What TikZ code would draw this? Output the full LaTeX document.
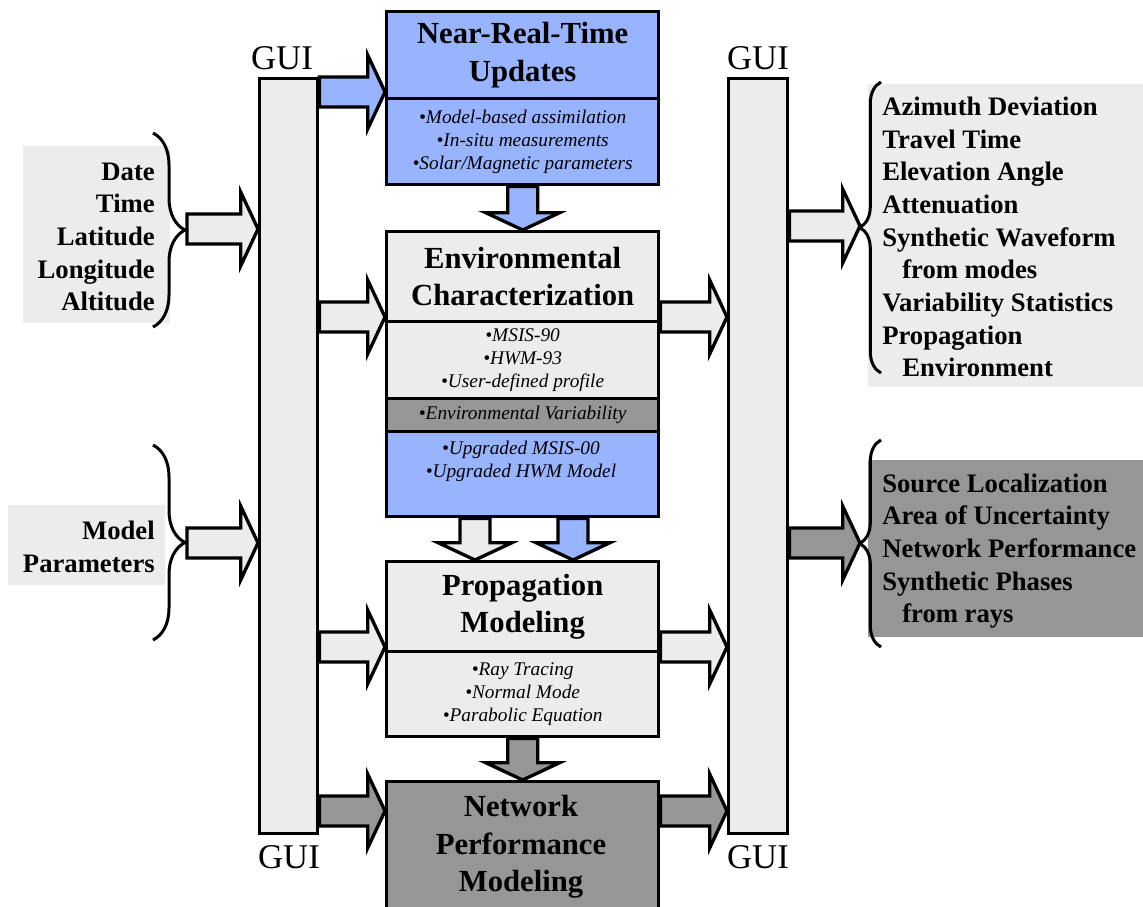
\documentclass[tikz,border=0pt]{standalone}
\usepackage{fontspec}
\setmainfont{Liberation Serif}
\usetikzlibrary{calc,decorations.pathreplacing}
\definecolor{lgray}{RGB}{236,236,236}
\definecolor{dgray}{RGB}{150,150,150}
\definecolor{lblue}{RGB}{153,180,255}
\begin{document}
\begin{tikzpicture}[x=0.75pt,y=-0.75pt,
  box/.style={draw, line width=2.5pt, inner sep=0pt, anchor=north west, align=center, minimum width=204pt},
  pane/.style={inner sep=0pt, anchor=north west},
  ttl/.style={font=\fontsize{23}{28}\selectfont\bfseries},
  lst/.style={font=\fontsize{14.5}{17.3}\selectfont\itshape},
  side/.style={font=\fontsize{20}{24.5}\selectfont\bfseries, inner sep=0pt},
  gui/.style={font=\fontsize{26}{30}\selectfont, inner sep=0pt},
  brc/.style={draw, line width=2.25pt, decorate},
  barr/.style={draw, line width=2.5pt, line join=miter, miter limit=20,
    to path={
      (\tikztostart) coordinate (bas)
      ($(\tikztotarget)!13pt!(\tikztostart)$) coordinate (bah)
      ($(bas)!11.25pt!90:(bah)$) -- ($(bah)!11.25pt!-90:(bas)$) -- ($(bah)!27.75pt!-90:(bas)$)
      -- (\tikztotarget) -- ($(bah)!27.75pt!90:(bas)$) -- ($(bah)!11.25pt!90:(bas)$)
      -- ($(bas)!11.25pt!-90:(bah)$) -- cycle}}
]
\useasboundingbox (0,0) rectangle (1143,907);

% row / column helper coordinates
\coordinate (r1) at (0,92);
\coordinate (r2) at (0,317);
\coordinate (r3) at (0,647);
\coordinate (r4) at (0,811);
\coordinate (c1) at (475,0);
\coordinate (c2) at (573,0);

% side panels
\node[pane, fill=lgray, minimum width=110.25pt, minimum height=132.75pt] (in1box) at (23,146) {};
\node[pane, fill=lgray, minimum width=117.75pt, minimum height=60pt] (in2box) at (8,505) {};
\node[pane, fill=lgray, minimum width=206.25pt, minimum height=227.25pt] (out1box) at (868,84) {};
\node[pane, fill=dgray, minimum width=206.25pt, minimum height=132.75pt] (out2box) at (868,460) {};

\node[side, anchor=east, align=right] (in1) at (155,237) {Date\\Time\\Latitude\\Longitude\\Altitude};
\node[side, anchor=east, align=right] (in2) at (155,547) {Model\\Parameters};
\node[side, anchor=west, align=left] (out1) at (882,237) {Azimuth Deviation\\Travel Time\\Elevation Angle\\Attenuation\\Synthetic Waveform\\\hspace*{15pt}from modes\\Variability Statistics\\Propagation\\\hspace*{15pt}Environment};
\node[side, anchor=west, align=left] (out2) at (882,551) {Source Localization\\Area of Uncertainty\\Network Performance\\Synthetic Phases\\\hspace*{15pt}from rays};

% braces
\draw[brc, decoration={brace, amplitude=24pt}] (153,133) -- (153,327);
\draw[brc, decoration={brace, amplitude=24pt}] (153,445) -- (153,640);
\draw[brc, decoration={brace, amplitude=16pt}] (881,373) -- (881,82);
\draw[brc, decoration={brace, amplitude=16pt}] (881,647) -- (881,440);
\coordinate (i1tip) at (187,229);
\coordinate (i2tip) at (187,543);
\coordinate (o1tip) at (860,226);
\coordinate (o2tip) at (860,543);

% GUI bars
\node[box, fill=lgray, minimum width=43.5pt, minimum height=566.25pt] (lbar) at (258,77) {};
\node[box, fill=lgray, minimum width=44.25pt, minimum height=566.25pt] (rbar) at (727,77) {};
\node[gui] (guiTL) at (282,58) {GUI};
\node[gui] (guiTR) at (758,58) {GUI};
\node[gui] (guiBL) at (289,857) {GUI};
\node[gui] (guiBR) at (758,857) {GUI};

% central column
\node[box, ttl, fill=lblue, minimum height=65.25pt] (nrtT) at (385,10) {Near-Real-Time\\Updates};
\node[box, lst, fill=lblue, minimum height=64.5pt] (nrtL) at (385,97) {•Model-based assimilation\\•In-situ measurements\\•Solar/Magnetic parameters};

\node[box, ttl, fill=lgray, minimum height=67.5pt] (ecT) at (385,230) {Environmental\\Characterization};
\node[box, lst, fill=lgray, minimum height=57.75pt] (ecL) at (385,320) {•MSIS-90\\•HWM-93\\•User-defined profile};
\node[box, lst, fill=dgray, minimum height=24.75pt] (ecV) at (385,397) {•Environmental Variability};
\node[box, fill=lblue, minimum height=63.75pt] (ecU) at (385,430) {};
\node[lst, align=center, inner sep=0pt] (ecUtext) at (521,461) {•Upgraded MSIS-00\\•Upgraded HWM Model};

\node[box, ttl, fill=lgray, minimum height=67.5pt] (pmT) at (385,560) {Propagation\\Modeling};
\node[box, lst, fill=lgray, minimum height=63.75pt] (pmL) at (385,650) {•Ray Tracing\\•Normal Mode\\•Parabolic Equation};

\node[box, fill=dgray, minimum height=97.5pt] (npm) at (385,780) {};
\node[ttl, align=center, inner sep=0pt] (npmtext) at (521,847) {Network\\Performance\\Modeling};

% block arrows
\draw[barr, fill=lblue] (lbar.east |- r1) to (nrtT.west |- r1);
\draw[barr, fill=lgray] (lbar.east |- r2) to (ecT.west |- r2);
\draw[barr, fill=lgray] (lbar.east |- r3) to (pmT.west |- r3);
\draw[barr, fill=dgray] (lbar.east |- r4) to (npm.west |- r4);
\draw[barr, fill=lgray] (ecT.east |- r2) to (rbar.west |- r2);
\draw[barr, fill=lgray] (pmT.east |- r3) to (rbar.west |- r3);
\draw[barr, fill=dgray] (npm.east |- r4) to (rbar.west |- r4);
\draw[barr, fill=lgray] (rbar.east |- o1tip) to (o1tip);
\draw[barr, fill=dgray] (rbar.east |- o2tip) to (o2tip);
\draw[barr, fill=lgray] (i1tip) to (lbar.west |- i1tip);
\draw[barr, fill=lgray] (i2tip) to (lbar.west |- i2tip);
\draw[barr, fill=lblue] (nrtL.south) to (ecT.north);
\draw[barr, fill=lgray] (ecU.south -| c1) to (pmT.north -| c1);
\draw[barr, fill=lblue] (ecU.south -| c2) to (pmT.north -| c2);
\draw[barr, fill=dgray] (pmL.south) to (npm.north);
\end{tikzpicture}
\end{document}
